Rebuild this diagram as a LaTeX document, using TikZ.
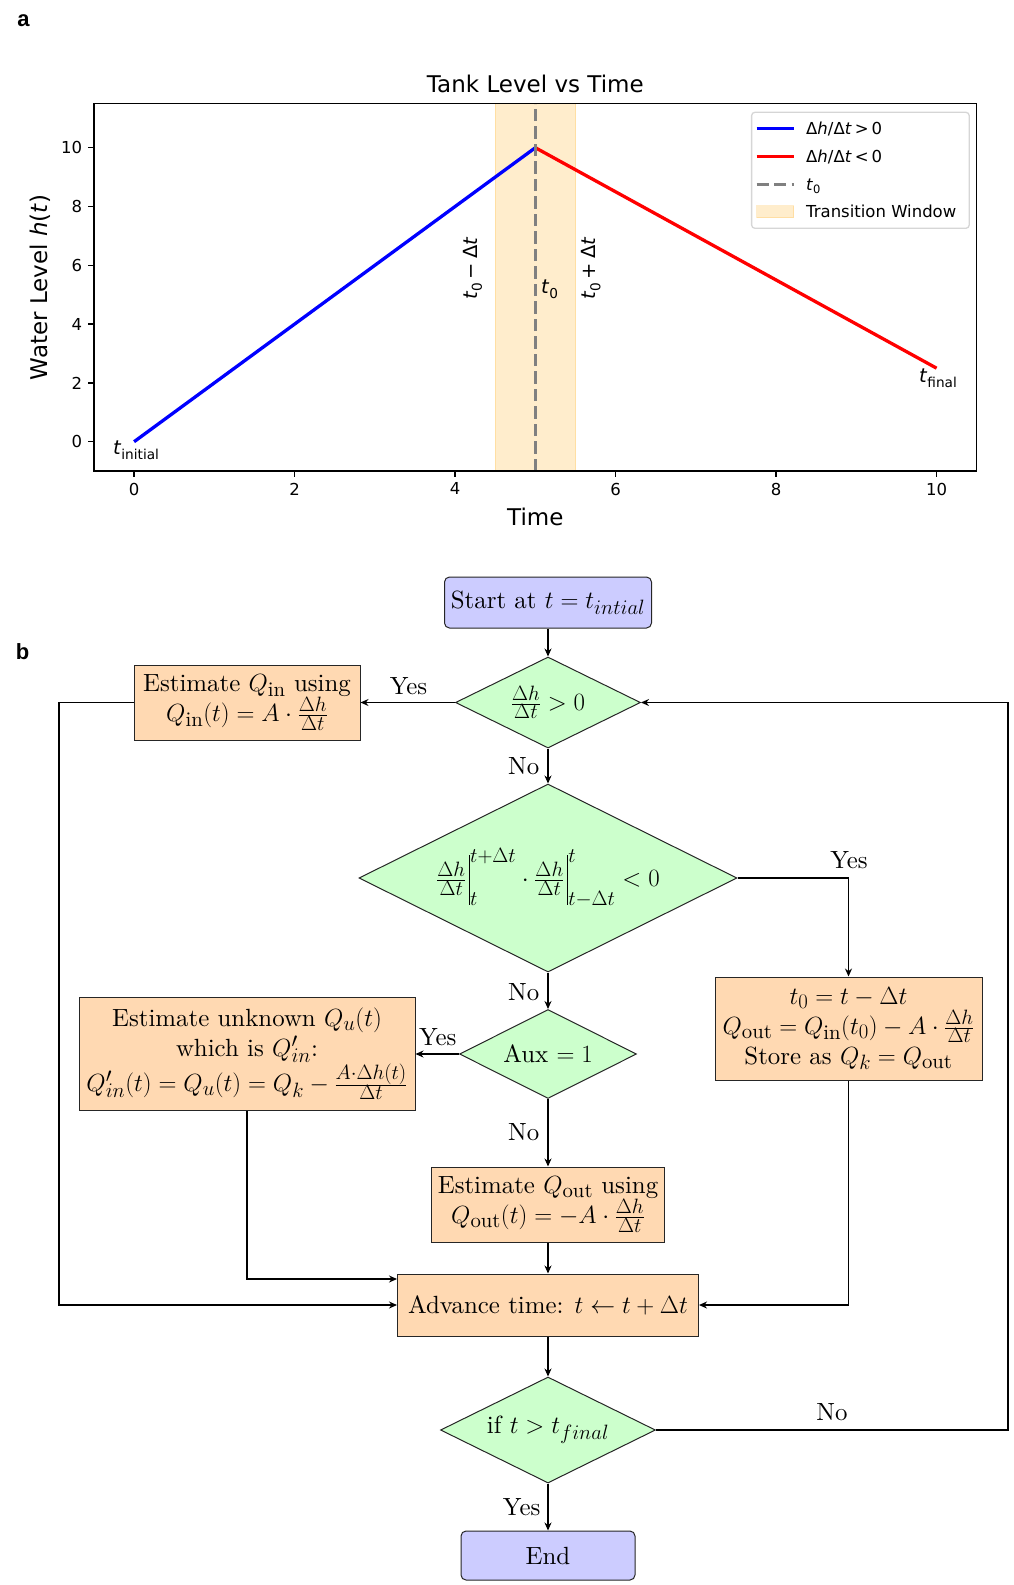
\documentclass[tikz,border=0pt]{standalone}
\usepackage{fontspec}
\setmainfont{lmroman10-regular.otf}[ItalicFont=lmroman10-italic.otf, BoldFont=lmroman10-bold.otf]
\usetikzlibrary{shapes.geometric,arrows.meta}
\newfontfamily\djv{DejaVu Sans}
\newfontfamily\lib{Liberation Sans}
\definecolor{winfill}{RGB}{255,165,0}
\definecolor{boxorange}{RGB}{255,217,178}
\definecolor{boxgreen}{RGB}{204,255,204}
\definecolor{boxblue}{RGB}{204,204,255}
\definecolor{legedge}{RGB}{204,204,204}
\definecolor{dgray}{RGB}{128,128,128}
\newcommand{\sbs}[1]{\raisebox{-4.5pt}{\fontsize{13.65}{15}\selectfont #1}}
\newcommand{\lsbs}[1]{\raisebox{-3.5pt}{\fontsize{11.5}{13}\selectfont #1}}
\newcommand{\evalbar}{{\mkern2mu\vrule height 32pt depth 18pt width 1.1pt}}
\begin{document}
\begin{tikzpicture}[x=1pt,y=-1pt,
  fc/.style={font=\fontsize{24.88}{30}\selectfont},
  procbox/.style={fc, draw=black!85, line width=1pt, fill=boxorange, inner sep=0pt, align=center},
  termbox/.style={fc, draw=black!85, line width=1pt, fill=boxblue, rounded corners=5pt, inner sep=0pt},
  decis/.style={fc, draw=black!85, line width=1pt, fill=boxgreen, diamond, inner sep=0pt, align=center},
  flow/.style={line width=1.8pt, -{Stealth[length=8pt,width=7pt]}},
  lbl/.style={fc, inner sep=0pt},
  tickl/.style={font=\djv\fontsize{16.5}{20}\selectfont, inner sep=0pt},
  legt/.style={font=\djv\fontsize{16.5}{20}\selectfont, inner sep=0pt, anchor=base west},
  ann/.style={font=\djv\fontsize{19.5}{23}\selectfont, inner sep=0pt},
  biglab/.style={font=\djv\fontsize{23}{27}\selectfont, inner sep=0pt},
  panel/.style={font=\lib\bfseries\fontsize{22}{26}\selectfont, inner sep=0pt},
]
\useasboundingbox (0,0) rectangle (1013,1585);

% ---------------- panel labels ----------------
\node[panel] (pa) at (23.5,21) {a};
\node[panel] (pb) at (22.5,652) {b};

% ---------------- plot ----------------
\fill[winfill, opacity=0.2] (495.2,103.6) rectangle (575.5,471.1);
\draw[winfill, opacity=0.2, line width=1.3pt] (495.2,103.6) -- (495.2,471.1) (575.5,103.6) -- (575.5,471.1);
\draw[blue, line width=3.3pt] (134.1,441.7) -- (535.35,147.7);
\draw[red, line width=3.3pt] (535.35,147.7) -- (936.6,368.2);
\draw[dgray, line width=3.3pt, dash pattern=on 12.2pt off 5.3pt] (535.35,471.1) -- (535.35,103.6);
\draw[line width=1.3pt] (94,103.6) rectangle (976.7,471.1);
\foreach \v/\xx in {0/134.1,2/294.6,4/455.1,6/615.6,8/776.1,10/936.6}{
  \draw[line width=1.3pt] (\xx,471.1) -- (\xx,476.9);
  \node[tickl, anchor=north] at (\xx,482.6) {\v};
}
\foreach \v/\yy in {0/441.7,2/382.9,4/324.1,6/265.3,8/206.5,10/147.7}{
  \draw[line width=1.3pt] (94,\yy) -- (88.2,\yy);
  \node[tickl, anchor=east] at (82.4,\yy) {\v};
}
\node[biglab, anchor=base] (title) at (535.35,92) {Tank Level vs Time};
\node[biglab, anchor=base] (xlab) at (535.35,525) {Time};
\node[biglab, rotate=90] (ylab) at (40,287.35) {Water Level \textit{h}(\textit{t})};

% annotations
\node[ann, anchor=base west] (tinit) at (113,454.5) {\textit{t}\sbs{initial}};
\node[ann, anchor=base west] (tfin) at (919,382.5) {\textit{t}\sbs{final}};
\node[ann, anchor=base west] (tzero) at (541,293.5) {\textit{t}\sbs{0}};
\node[ann, rotate=90] (tminus) at (472.5,268.5) {\textit{t}\sbs{0}\hspace{4pt}−\hspace{4pt}Δ\textit{t}};
\node[ann, rotate=90] (tplus) at (591,268.5) {\textit{t}\sbs{0}\hspace{4pt}+\hspace{4pt}Δ\textit{t}};

% legend
\draw[legedge, fill=white, fill opacity=0.8, draw opacity=0.8, line width=1.3pt, rounded corners=3.3pt] (751.6,112.3) rectangle (969.2,228.3);
\draw[blue, line width=3.3pt] (756.7,128.3) -- (793.6,128.3);
\draw[red, line width=3.3pt] (756.7,156.7) -- (793.6,156.7);
\draw[dgray, line width=3.3pt, dash pattern=on 12.2pt off 5.3pt] (756.7,184.3) -- (793.6,184.3);
\fill[winfill, opacity=0.2] (756.7,205.8) rectangle (793.6,217.6);
\draw[winfill, opacity=0.2, line width=1.3pt] (756.7,205.8) rectangle (793.6,217.6);
\node[legt] (l1) at (806,134.3) {Δ\textit{h}/Δ\textit{t}\hspace{3pt}>\hspace{3pt}0};
\node[legt] (l2) at (806,162.7) {Δ\textit{h}/Δ\textit{t}\hspace{3pt}<\hspace{3pt}0};
\node[legt] (l3) at (806,190.3) {\textit{t}\lsbs{0}};
\node[legt] (l4) at (806,217.7) {Transition Window};

% ---------------- flowchart ----------------
\node[termbox, minimum width=207, minimum height=51] (start) at (548,602.5) {Start at $t = t_{intial}$};
\node[decis, minimum width=185, minimum height=91, aspect=2.03] (d1) at (548,702.5) {$\frac{\Delta h}{\Delta t} > 0$};
\node[procbox, minimum width=226, minimum height=75] (qin) at (247,702.5) {Estimate $Q_{\mathrm{in}}$ using\\ $Q_{\mathrm{in}}(t) = A\cdot\frac{\Delta h}{\Delta t}$};
\node[decis, minimum width=378, minimum height=188, aspect=2.01] (d2) at (548,878) {$\frac{\Delta h}{\Delta t}\evalbar^{t+\Delta t}_{t} \cdot \frac{\Delta h}{\Delta t}\evalbar^{t}_{t-\Delta t} < 0$};
\node[procbox, minimum width=267, minimum height=103] (t0b) at (848.5,1028.5) {$t_0 = t - \Delta t$\\ $Q_{\mathrm{out}} = Q_{\mathrm{in}}(t_0) - A\cdot\frac{\Delta h}{\Delta t}$\\ Store as $Q_k = Q_{\mathrm{out}}$};
\node[decis, minimum width=177, minimum height=89, aspect=2] (d3) at (548,1054) {Aux $= 1$};
\node[procbox, minimum width=336, minimum height=113] (qu) at (247,1054) {Estimate unknown $Q_u(t)$\\ which is $Q'_{in}$:\\ $Q'_{in}(t) = Q_u(t) = Q_k - \frac{A\cdot\Delta h(t)}{\Delta t}$};
\node[procbox, minimum width=233, minimum height=75] (qout) at (548,1204.5) {Estimate $Q_{\mathrm{out}}$ using\\ $Q_{\mathrm{out}}(t) = -A\cdot\frac{\Delta h}{\Delta t}$};
\node[procbox, minimum width=301, minimum height=62] (adv) at (548,1305) {Advance time: $t \leftarrow t + \Delta t$};
\node[decis, minimum width=215, minimum height=106, aspect=2.03] (d4) at (548,1430) {if $t > t_{final}$};
\node[termbox, minimum width=174, minimum height=49] (endn) at (548,1555.5) {End};

\coordinate (rr) at (1008,1430);
\coordinate (ll) at (59,702.5);

\draw[flow] (start) -- (d1);
\draw[flow] (d1) -- (qin) node[lbl] at (408.5,686) {Yes};
\draw[flow] (d1) -- (d2) node[lbl] at (523.7,766.3) {No};
\draw[flow] (d2.east) -| (t0b.north) node[lbl] at (849,860) {Yes};
\draw[flow] (d2) -- (d3) node[lbl] at (523.7,992) {No};
\draw[flow] (d3) -- (qu) node[lbl] at (437.8,1037) {Yes};
\draw[flow] (d3) -- (qout) node[lbl] at (523.7,1132) {No};
\draw[flow] (qout) -- (adv);
\draw[flow] (qu.south) |- ([yshift=26pt]adv.west);
\draw[flow] (qin.west) -- (ll) |- (adv.west);
\draw[flow] (t0b.south) |- (adv.east);
\draw[flow] (adv) -- (d4);
\draw[flow] (d4.east) -- (rr) |- (d1.east) node[lbl] at (832,1412) {No};
\draw[flow] (d4) -- (endn) node[lbl] at (521.7,1507) {Yes};
\end{tikzpicture}
\end{document}
